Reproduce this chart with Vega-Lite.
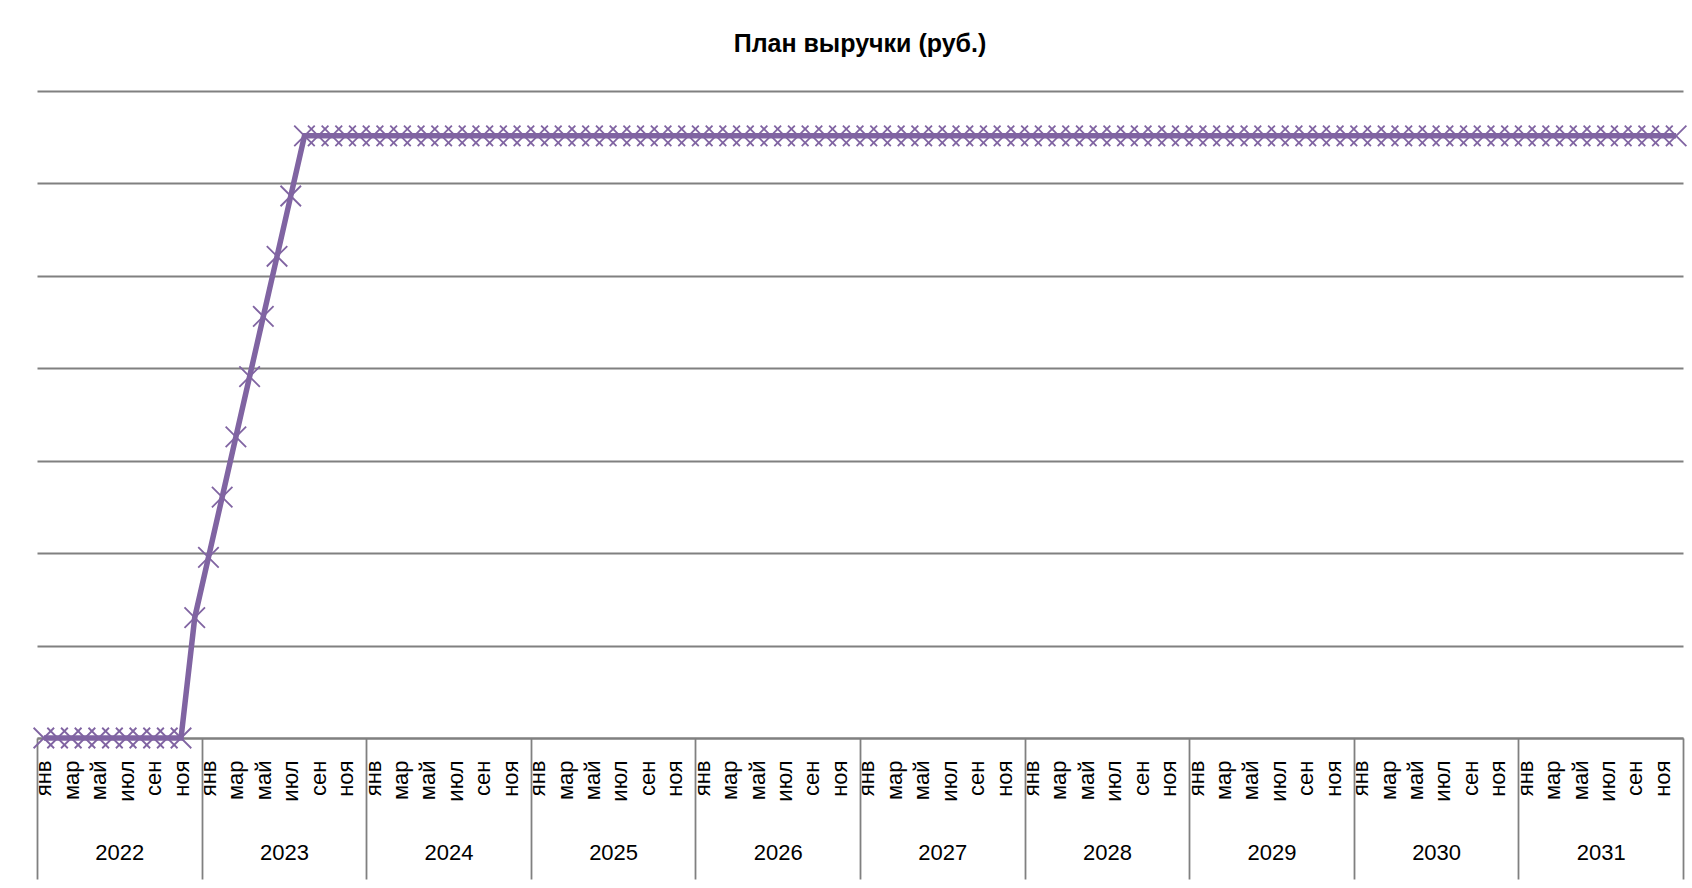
{
  "$schema": "https://vega.github.io/schema/vega-lite/v6.json",
  "autosize": "none",
  "width": 1646,
  "height": 647,
  "padding": {"left": 37, "top": 91, "right": 9, "bottom": 150},
  "background": "white",
  "config": {"font": "Liberation Sans", "view": {"stroke": null}},
  "title": {"text": "План выручки (руб.)", "fontSize": 25, "fontWeight": "bold", "font": "Liberation Sans", "color": "black", "anchor": "middle", "offset": 34},
  "data": {"values": [
    {"i":0,"v":0},{"i":1,"v":0},{"i":2,"v":0},{"i":3,"v":0},{"i":4,"v":0},{"i":5,"v":0},{"i":6,"v":0},{"i":7,"v":0},{"i":8,"v":0},{"i":9,"v":0},{"i":10,"v":0},{"i":11,"v":1303},
    {"i":12,"v":1955},{"i":13,"v":2606},{"i":14,"v":3258},{"i":15,"v":3909},{"i":16,"v":4561},{"i":17,"v":5212},{"i":18,"v":5864},{"i":19,"v":6515},{"i":20,"v":6515},{"i":21,"v":6515},{"i":22,"v":6515},{"i":23,"v":6515},
    {"i":24,"v":6515},{"i":25,"v":6515},{"i":26,"v":6515},{"i":27,"v":6515},{"i":28,"v":6515},{"i":29,"v":6515},{"i":30,"v":6515},{"i":31,"v":6515},{"i":32,"v":6515},{"i":33,"v":6515},{"i":34,"v":6515},{"i":35,"v":6515},
    {"i":36,"v":6515},{"i":37,"v":6515},{"i":38,"v":6515},{"i":39,"v":6515},{"i":40,"v":6515},{"i":41,"v":6515},{"i":42,"v":6515},{"i":43,"v":6515},{"i":44,"v":6515},{"i":45,"v":6515},{"i":46,"v":6515},{"i":47,"v":6515},
    {"i":48,"v":6515},{"i":49,"v":6515},{"i":50,"v":6515},{"i":51,"v":6515},{"i":52,"v":6515},{"i":53,"v":6515},{"i":54,"v":6515},{"i":55,"v":6515},{"i":56,"v":6515},{"i":57,"v":6515},{"i":58,"v":6515},{"i":59,"v":6515},
    {"i":60,"v":6515},{"i":61,"v":6515},{"i":62,"v":6515},{"i":63,"v":6515},{"i":64,"v":6515},{"i":65,"v":6515},{"i":66,"v":6515},{"i":67,"v":6515},{"i":68,"v":6515},{"i":69,"v":6515},{"i":70,"v":6515},{"i":71,"v":6515},
    {"i":72,"v":6515},{"i":73,"v":6515},{"i":74,"v":6515},{"i":75,"v":6515},{"i":76,"v":6515},{"i":77,"v":6515},{"i":78,"v":6515},{"i":79,"v":6515},{"i":80,"v":6515},{"i":81,"v":6515},{"i":82,"v":6515},{"i":83,"v":6515},
    {"i":84,"v":6515},{"i":85,"v":6515},{"i":86,"v":6515},{"i":87,"v":6515},{"i":88,"v":6515},{"i":89,"v":6515},{"i":90,"v":6515},{"i":91,"v":6515},{"i":92,"v":6515},{"i":93,"v":6515},{"i":94,"v":6515},{"i":95,"v":6515},
    {"i":96,"v":6515},{"i":97,"v":6515},{"i":98,"v":6515},{"i":99,"v":6515},{"i":100,"v":6515},{"i":101,"v":6515},{"i":102,"v":6515},{"i":103,"v":6515},{"i":104,"v":6515},{"i":105,"v":6515},{"i":106,"v":6515},{"i":107,"v":6515},
    {"i":108,"v":6515},{"i":109,"v":6515},{"i":110,"v":6515},{"i":111,"v":6515},{"i":112,"v":6515},{"i":113,"v":6515},{"i":114,"v":6515},{"i":115,"v":6515},{"i":116,"v":6515},{"i":117,"v":6515},{"i":118,"v":6515},{"i":119,"v":6515}
  ]},
  "layer": [
    {
      "mark": {"type": "line", "color": "#8064A2", "strokeWidth": 5.5},
      "encoding": {
        "x": {"field": "i", "type": "quantitative",
              "scale": {"domain": [-0.5, 119.5], "nice": false, "zero": false},
              "axis": {"orient": "bottom", "title": null,
                       "values": [0,2,4,6,8,10,12,14,16,18,20,22,24,26,28,30,32,34,36,38,40,42,44,46,48,50,52,54,56,58,60,62,64,66,68,70,72,74,76,78,80,82,84,86,88,90,92,94,96,98,100,102,104,106,108,110,112,114,116,118],
                       "labelExpr": "['янв','фев','мар','апр','май','июн','июл','авг','сен','окт','ноя','дек'][datum.value % 12]",
                       "labelAngle": -90, "labelFontSize": 22, "labelColor": "black", "labelPadding": 22,
                       "labelOverlap": false, "labelFlush": false, "labelBound": false,
                       "ticks": false, "grid": false,
                       "domain": true, "domainColor": "#808080", "domainWidth": 1.8}},
        "y": {"field": "v", "type": "quantitative",
              "scale": {"domain": [0, 7000], "nice": false},
              "axis": {"title": null, "labels": false, "ticks": false, "domain": false,
                       "values": [0,1000,2000,3000,4000,5000,6000,7000],
                       "grid": true, "gridColor": "#808080", "gridWidth": 1.8, "minExtent": 0, "maxExtent": 0}}
      }
    },
    {
      "mark": {"type": "point", "shape": "M-1,-1L1,1M-1,1L1,-1", "filled": false, "color": "#8064A2", "strokeWidth": 1.8, "size": 420, "opacity": 1},
      "encoding": {
        "x": {"field": "i", "type": "quantitative", "axis": null},
        "y": {"field": "v", "type": "quantitative",
              "axis": {"title": null, "labels": false, "ticks": false, "domain": false,
                       "values": [0,1000,2000,3000,4000,5000,6000,7000],
                       "grid": true, "gridColor": "#808080", "gridWidth": 1.8, "minExtent": 0, "maxExtent": 0}}
      }
    },
    {
      "mark": {"type": "point", "opacity": 0},
      "encoding": {
        "x": {"field": "i", "type": "quantitative",
              "axis": {"orient": "bottom", "title": null,
                       "values": [5.5,17.5,29.5,41.5,53.5,65.5,77.5,89.5,101.5,113.5],
                       "labelExpr": "'' + (2022 + floor(datum.value / 12))",
                       "labelAngle": 0, "labelFontSize": 22, "labelColor": "black", "labelPadding": 104,
                       "labelBaseline": "top", "labelAlign": "center",
                       "labelOverlap": false, "labelFlush": false, "labelBound": false,
                       "ticks": false, "grid": false, "domain": false}}
      }
    },
    {
      "mark": {"type": "point", "opacity": 0},
      "encoding": {
        "x": {"field": "i", "type": "quantitative",
              "axis": {"orient": "bottom", "title": null,
                       "values": [-0.5,11.5,23.5,35.5,47.5,59.5,71.5,83.5,95.5,107.5,119.5],
                       "labels": false, "ticks": true, "tickSize": 141, "tickColor": "#808080", "tickWidth": 1.8,
                       "grid": false, "domain": false}}
      }
    }
  ],
  "resolve": {"axis": {"x": "independent"}}
}
